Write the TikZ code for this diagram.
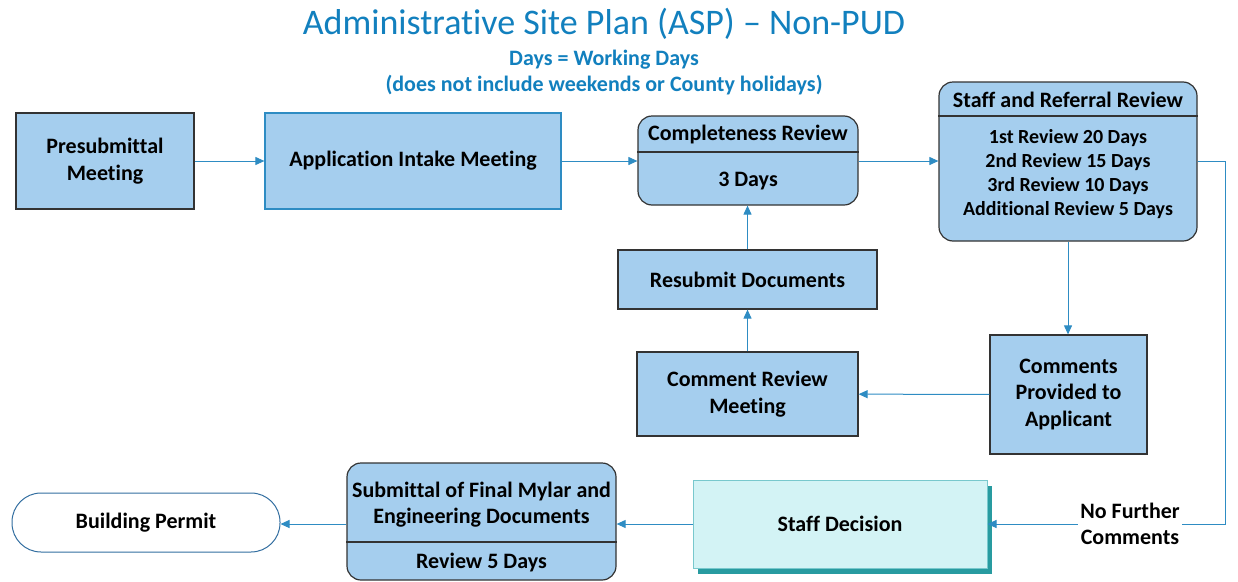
\documentclass[tikz,border=0pt]{standalone}
\usepackage{fontspec}
\setmainfont{Carlito}[RawFeature={-liga;-clig;-calt}]
\usetikzlibrary{arrows.meta}
\usetikzlibrary{positioning}
\usetikzlibrary{shadows}

\definecolor{boxblue}{RGB}{165,206,238}
\definecolor{flowline}{RGB}{46,140,195}
\definecolor{titleblue}{RGB}{18,128,190}
\definecolor{decfill}{RGB}{211,243,245}
\definecolor{decline}{RGB}{120,200,205}
\definecolor{decshadow}{RGB}{40,155,160}
\definecolor{permitline}{RGB}{50,110,160}

\begin{document}
\begin{tikzpicture}[x=1pt, y=-1pt, >={Triangle[length=9pt,width=8pt]},
		box/.style={draw=black!80, fill=boxblue, line width=1.2pt, inner sep=0pt,
			font=\bfseries\fontsize{22}{27}\selectfont, align=center},
		roundbox/.style={box, rounded corners=14pt},
		boxtext/.style={font=\bfseries\fontsize{22}{26}\selectfont, align=center, inner sep=0pt},
		flow/.style={draw=flowline, line width=1pt, ->}]
		
		\useasboundingbox (0,0) rectangle (1238,581);
		
		% Title
		\node[font=\fontsize{36}{40}\selectfont, text=titleblue] (title) at (604,24) {Administrative Site Plan (ASP) – Non-PUD};
		\node[boxtext, text=titleblue] (subtitle) at (604,73) {Days = Working Days\\(does not include weekends or County holidays)};
		
		% Top row
		\node[box, minimum width=178pt, minimum height=96pt] (presub) at (105,161) {Presubmittal\\Meeting};
		\node[box, draw=flowline, minimum width=296pt, minimum height=96pt] (intake) at (413,161) {Application Intake Meeting};
		
		\node[roundbox, minimum width=220pt, minimum height=89pt] (complete) at (748,160.5) {};
		\draw[line width=1.2pt, black!80] (complete.west |- 0,152) -- (complete.east |- 0,152);
		\node[boxtext] (completehead) at (748,135) {Completeness Review};
		\node[boxtext] (completedays) at (748,181) {3 Days};
		
		\node[roundbox, minimum width=258pt, minimum height=159pt] (staff) at (1068,161.5) {};
		\draw[line width=1.2pt, black!80] (staff.west |- 0,116) -- (staff.east |- 0,116);
		\node[boxtext] (staffhead) at (1068,100) {Staff and Referral Review};
		\node[boxtext, font=\bfseries\fontsize{20}{24}\selectfont] (staffdays) at (1068,174) {1st Review 20 Days\\2nd Review 15 Days\\3rd Review 10 Days\\Additional Review 5 Days};
		
		% Review loop
		\node[box, minimum width=259pt, minimum height=59pt] (resubmit) at (747.5,279.5) {Resubmit Documents};
		\node[box, minimum width=221pt, minimum height=84pt] (review) at (747.5,394) {Comment Review\\Meeting};
		\node[box, font=\bfseries\fontsize{22}{26.5}\selectfont, minimum width=157pt, minimum height=119pt] (comments) at (1068.5,394.5) {Comments\\Provided to\\Applicant};
		
		% Bottom row
		\node[box, draw=decline, fill=decfill, line width=1pt, minimum width=294pt, minimum height=88pt,
			drop shadow={shadow xshift=5pt, shadow yshift=-6pt, fill=decshadow, opacity=1}] (decision) at (840,524) {Staff Decision};
		
		\node[roundbox, minimum width=269pt, minimum height=117pt] (submit) at (481.5,521.5) {};
		\draw[line width=1.2pt, black!80] (submit.west |- 0,542) -- (submit.east |- 0,542);
		\node[boxtext] (submithead) at (481.5,505) {Submittal of Final Mylar and\\Engineering Documents};
		\node[boxtext] (submitdays) at (481.5,563) {Review 5 Days};
		
		\node[box, draw=permitline, fill=white, line width=1pt, rounded corners=29pt, minimum width=268pt, minimum height=59pt] (permit) at (146,522.5) {Building Permit};
		
		% Connectors
		\coordinate (turn) at (1225,161);
		\draw[flow] (presub) -- (intake);
		\draw[flow] (intake) -- (intake -| complete.west);
		\draw[flow] (complete.east |- intake) -- (staff.west |- intake);
		\draw[flow] (staff.east |- turn) -- (turn) |- node[pos=0.7, fill=white, boxtext, inner sep=2pt] (nofurther) {No Further\\Comments} (decision.east);
		\draw[flow] (staff.south) -- (staff.south |- comments.north);
		\draw[flow] (comments) -- (review);
		\draw[flow] (review) -- (resubmit);
		\draw[flow] (resubmit) -- (resubmit |- complete.south);
		\draw[flow] (decision.west) -- (decision.west -| submit.east);
		\draw[flow] (submit.west |- decision.west) -- (permit.east |- decision.west);
		
	\end{tikzpicture}
\end{document}
